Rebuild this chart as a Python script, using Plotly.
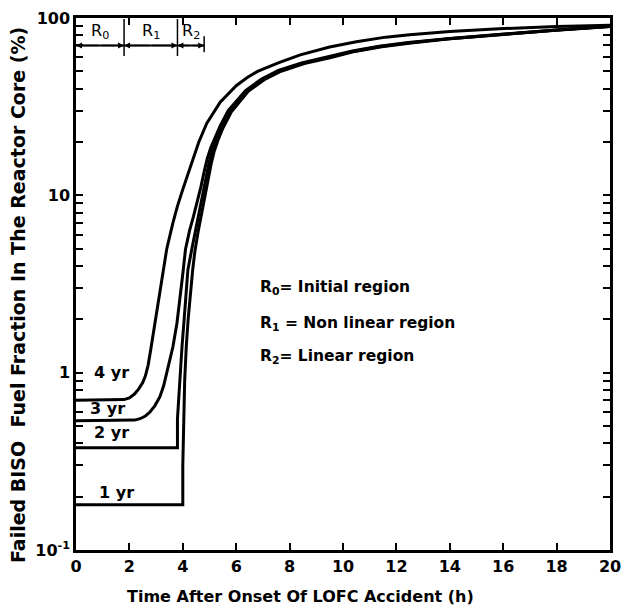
import math
import plotly.graph_objects as go

# ---- data ----
yr4_x = [0, 1.5, 1.8, 2.0, 2.2, 2.35, 2.5, 2.6, 2.7, 2.8, 2.9, 3.0, 3.14, 3.25, 3.4, 3.63, 3.8, 4.0, 4.2, 4.4,
         4.6, 4.9, 5.4, 6.0, 6.4, 6.8, 7.6, 8.4, 9.5, 10.5, 11.6, 12.5, 14, 15.85, 18, 20]
yr4_y = [0.70, 0.70, 0.705, 0.72, 0.76, 0.81, 0.88, 0.96, 1.1, 1.35, 1.68, 2.2, 3.0, 3.8, 5.0, 7.0, 8.7, 10.8, 13.3,
         16.5, 20, 25.5, 33.5, 41.5, 46, 50, 56, 62, 68.6, 73.5, 78, 80.5, 84, 87, 89.5, 91]

yr3_x = [0, 2.0, 2.2, 2.4, 2.6, 2.77, 2.95, 3.14, 3.28, 3.4, 3.52, 3.63, 3.78, 3.9, 4.0, 4.1, 4.25, 4.4, 4.55, 4.68,
         4.8, 4.92, 5.05, 5.2, 5.4, 5.7, 6.35, 6.95, 7.58, 8.45, 9.45, 10.35, 11.35, 12.45, 14, 15.85, 18, 20]
yr3_y = [0.536, 0.536, 0.54, 0.55, 0.57, 0.6, 0.65, 0.73, 0.84, 1.0, 1.2, 1.4, 1.9, 2.6, 3.6, 4.95, 6.3, 7.6, 9.3, 11.2,
         13.6, 16.2, 18.6, 21, 24.6, 30, 39, 45.3, 50.6, 55.7, 60.2, 65.2, 69.2, 72.7, 76.7, 81, 85.7, 89.7]

yr2_x = [0, 3.8, 3.8, 3.85, 3.9, 3.97, 4.05, 4.19, 4.34, 4.47, 4.6, 4.73, 4.86, 4.98, 5.1, 5.25, 5.45, 5.76, 6.4,
         7.0, 7.63, 8.5, 9.5, 10.4, 11.4, 12.5, 14, 15.85, 18, 20]
yr2_y = [0.377, 0.377, 0.55, 0.75, 0.95, 1.4, 2.0, 3.8, 5.0, 6.3, 7.9, 9.9, 12.4, 15.2, 17.8, 20.6, 24.2, 29.9, 38.9,
         45.2, 50.4, 55.5, 60, 65, 69, 72.5, 76.5, 80.8, 85.5, 89.5]

yr1_x = [0, 4.0, 4.0, 4.03, 4.07, 4.13, 4.2, 4.37, 4.45, 4.57, 4.7, 4.83, 4.95, 5.06, 5.17, 5.31, 5.5, 5.82, 6.45,
         7.05, 7.68, 8.55, 9.55, 10.45, 11.45, 12.55, 14, 15.85, 18, 20]
yr1_y = [0.18, 0.18, 0.3, 0.5, 0.9, 1.4, 2.0, 3.8, 4.8, 6.2, 7.9, 9.9, 12.3, 15, 17.6, 20.3, 23.9, 29.6, 38.6,
         44.9, 50.1, 55.3, 59.8, 64.8, 68.8, 72.3, 76.3, 80.6, 85.4, 89.5]

curve_labels = ["4 yr", "3 yr", "2 yr", "1 yr"]
label_x = [0.6, 0.45, 0.6, 0.78]
label_y = [1.0, 0.63, 0.458, 0.21]

region_bounds = [0, 1.8, 3.8, 4.8]
region_names = ["R<sub>0</sub>", "R<sub>1</sub>", "R<sub>2</sub>"]
region_line_y = 70
region_label_y = 84

legend_lines = ["R<sub>0</sub>= Initial region", "R<sub>1</sub> = Non linear region", "R<sub>2</sub>= Linear region"]
legend_x = 6.8
legend_y = [3.02, 1.87, 1.23]

x_ticks = list(range(0, 21, 2))
y_tickvals = [0.1, 0.2, 0.3, 0.4, 0.5, 0.6, 0.7, 0.8, 0.9,
              1, 2, 3, 4, 5, 6, 7, 8, 9,
              10, 20, 30, 40, 50, 60, 70, 80, 90, 100]
y_major = {0.1: "10<sup>-1</sup>", 1: "1", 10: "10", 100: "100"}
y_ticktext = [y_major.get(v, "") for v in y_tickvals]

FONT = "DejaVu Sans"
lg = math.log10

W, H = 624, 609
ML, MR, MT, MB = 76, 14, 18, 59
PW, PH = W - ML - MR, H - MT - MB

fig = go.Figure()
for xs, ys in [(yr4_x, yr4_y), (yr3_x, yr3_y), (yr2_x, yr2_y), (yr1_x, yr1_y)]:
    fig.add_trace(go.Scatter(x=xs, y=ys, mode="lines",
                             line=dict(color="black", width=3),
                             showlegend=False, hoverinfo="skip"))

# curve labels
for t, lx, ly in zip(curve_labels, label_x, label_y):
    fig.add_annotation(x=lx, y=lg(ly), text="<b>" + t + "</b>", showarrow=False,
                       xanchor="left", yanchor="middle",
                       font=dict(family=FONT, size=16, color="black"))

# region markers at top
fig.add_shape(type="line", x0=region_bounds[0], x1=region_bounds[-1],
              y0=region_line_y, y1=region_line_y, line=dict(color="black", width=2))
for b in region_bounds[1:3]:
    fig.add_shape(type="line", x0=b, x1=b, y0=61, y1=98.6, line=dict(color="black", width=1.5))
fig.add_shape(type="line", x0=region_bounds[3], x1=region_bounds[3], y0=64, y1=79,
              line=dict(color="black", width=1.5))
for i, name in enumerate(region_names):
    a, b = region_bounds[i], region_bounds[i + 1]
    mid = (a + b) / 2
    for end in (a, b):
        fig.add_annotation(x=end, y=lg(region_line_y), ax=mid, ay=lg(region_line_y),
                           xref="x", yref="y", axref="x", ayref="y",
                           text="", showarrow=True, arrowhead=2, arrowsize=0.8,
                           arrowwidth=1.5, arrowcolor="black", standoff=0)
    fig.add_annotation(x=mid, y=lg(region_label_y), text=name, showarrow=False,
                       font=dict(family=FONT, size=16, color="black"))

# legend text
for t, ly in zip(legend_lines, legend_y):
    fig.add_annotation(x=legend_x, y=lg(ly), text="<b>" + t + "</b>", showarrow=False,
                       xanchor="left", yanchor="middle",
                       font=dict(family=FONT, size=15.5, color="black"))

# axis titles (positions given in page pixels)
fig.add_annotation(xref="paper", yref="paper", x=(18 - ML) / PW, y=(H - MB - 295) / PH,
                   text="<b>Failed BISO  Fuel Fraction In The Reactor Core (%)</b>",
                   textangle=-90, showarrow=False, xanchor="center", yanchor="middle",
                   font=dict(family=FONT, size=19, color="black"))
fig.add_annotation(xref="paper", yref="paper", x=(300 - ML) / PW, y=-(596 - (H - MB)) / PH,
                   text="<b>Time After Onset Of LOFC Accident (h)</b>",
                   showarrow=False, xanchor="center", yanchor="middle",
                   font=dict(family=FONT, size=16, color="black"))

fig.update_xaxes(range=[0, 20], tickvals=x_ticks, ticktext=[str(v) for v in x_ticks],
                 ticks="inside", ticklen=7, tickwidth=1.5, tickcolor="black",
                 showline=True, linecolor="black", linewidth=2.5, mirror="ticks",
                 showgrid=False, zeroline=False, automargin=False,
                 tickfont=dict(family=FONT, size=16, color="black", weight="bold"))
fig.update_yaxes(type="log", range=[-1, 2], tickvals=y_tickvals, ticktext=y_ticktext,
                 ticks="inside", ticklen=7, tickwidth=1.5, tickcolor="black",
                 showline=True, linecolor="black", linewidth=2.5, mirror="ticks",
                 showgrid=False, zeroline=False, automargin=False,
                 tickfont=dict(family=FONT, size=16, color="black", weight="bold"))

fig.update_layout(width=W, height=H, plot_bgcolor="white", paper_bgcolor="white",
                  margin=dict(l=ML, r=MR, t=MT, b=MB), showlegend=False)

fig.write_html("out.html", config={"displayModeBar": False},
               post_script="document.body.style.margin='0';document.body.style.overflow='hidden';")
